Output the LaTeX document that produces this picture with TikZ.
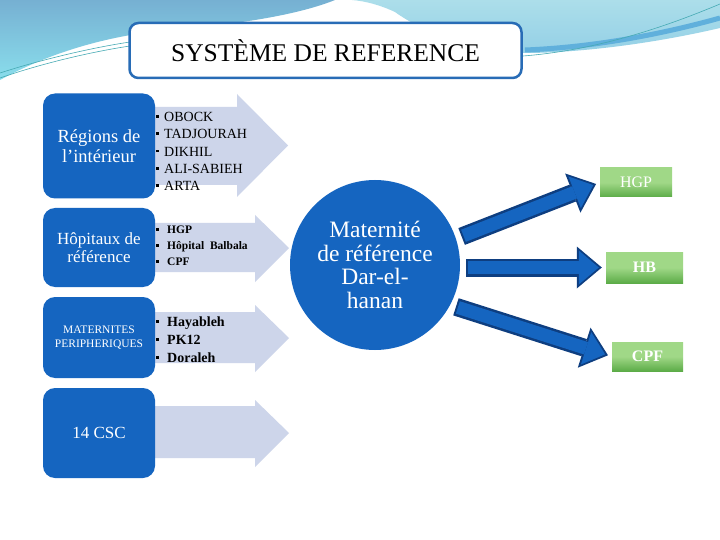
\documentclass[tikz,border=0pt]{standalone}
\usepackage{fontspec}
\setmainfont{Liberation Serif}
\usepackage{tikz}
\usetikzlibrary{arrows.meta,shapes}
\definecolor{boxblue}{RGB}{21,101,192}
\definecolor{darkblue}{RGB}{14,62,128}
\definecolor{frameblue}{RGB}{40,108,182}
\definecolor{lavender}{RGB}{205,213,234}
\definecolor{leafgreen}{RGB}{160,216,135}
\definecolor{deepgreen}{RGB}{92,172,72}
\definecolor{skyA}{RGB}{118,176,210}
\definecolor{skyB}{RGB}{138,222,236}
\definecolor{skyC}{RGB}{172,222,234}
\definecolor{skyD}{RGB}{148,208,230}
\definecolor{bandblue}{RGB}{96,176,220}
\definecolor{tealline}{RGB}{70,170,180}
\tikzstyle{titlebox}=[rectangle,draw=frameblue,line width=2.5pt,rounded corners=9pt,fill=white,minimum width=392pt,minimum height=55pt,font=\fontsize{25.5}{28}\selectfont]
\tikzstyle{bluebox}=[rectangle,rounded corners=12pt,fill=boxblue,text=white,minimum width=112pt,align=center,inner sep=0pt]
\tikzstyle{greenbox}=[rectangle,top color=leafgreen,bottom color=deepgreen,middle color=leafgreen,text=white,inner sep=0pt]
\tikzstyle{listbox}=[anchor=west,align=left,inner sep=0pt]
\tikzstyle{fatedge}=[draw=darkblue,line width=18pt,shorten <=6pt,shorten >=4pt,-{Triangle[length=25pt,width=42pt,line width=0pt]}]
\tikzstyle{fatcore}=[draw=boxblue,line width=13pt,shorten <=8pt,shorten >=7pt,-{Triangle[length=20pt,width=34pt,line width=0pt]}]
\newcommand{\sq}[1][5.5pt]{\rule[0.28em]{2.5pt}{2.5pt}\hspace{#1}}

\begin{document}
\begin{tikzpicture}[x=1pt,y=-1pt]
        \useasboundingbox (0,0) rectangle (720,540);
        \fill[white] (0,0) rectangle (720,540);
        % sky swoosh at the top
        \shade[top color=skyA,bottom color=skyB] (0,0) -- (335,0) .. controls (290,18) and (220,26) .. (150,32) .. controls (90,40) and (40,58) .. (0,80) -- cycle;
        \shade[top color=skyC,bottom color=skyD] (352,0) -- (720,0) -- (720,28) .. controls (660,42) and (590,52) .. (530,53) .. controls (470,53) and (420,30) .. (395,12) .. controls (380,5) and (365,1) .. (352,0) -- cycle;
        \draw[bandblue,line width=5pt] (525,50) .. controls (600,47) and (670,32) .. (720,18);
        \draw[tealline,line width=0.6pt] (0,73) .. controls (40,60) and (90,48) .. (130,42);
        \draw[tealline,line width=0.6pt] (0,78) .. controls (40,64) and (90,52) .. (130,46);
        \draw[tealline,line width=0.6pt] (523,56) .. controls (600,50) and (670,25) .. (720,4);

        \node[titlebox] (title) at (325.5,50.5) {SYSTÈME DE REFERENCE};

        % light arrows behind the lists
        \fill[lavender] (150,107) -- (237,107) -- (237,94) -- (288,145.5) -- (237,197) -- (237,185) -- (150,185) -- cycle;
        \fill[lavender] (150,223) -- (255,223) -- (255,215) -- (289,248) -- (255,282) -- (255,272) -- (150,272) -- cycle;
        \fill[lavender] (150,312) -- (255,312) -- (255,305) -- (289,338) -- (255,372) -- (255,363) -- (150,363) -- cycle;
        \fill[lavender] (150,406) -- (255,406) -- (255,400) -- (289,433) -- (255,467) -- (255,458) -- (150,458) -- cycle;

        \node[bluebox,minimum height=105pt,font=\fontsize{18.5}{20}\selectfont] (regions) at (99,146) {Régions de\\l’intérieur};
        \node[bluebox,minimum height=79pt,font=\fontsize{17}{18}\selectfont] (hopitaux) at (99,247.5) {Hôpitaux de\\référence};
        \node[bluebox,minimum height=81pt,font=\fontsize{11.5}{13.5}\selectfont] (peri) at (99,337.5) {MATERNITES\\PERIPHERIQUES};
        \node[bluebox,minimum height=90pt,font=\fontsize{17}{20}\selectfont] (csc) at (99,433) {14 CSC};

        \node[listbox,font=\fontsize{14}{17.3}\selectfont] (villes) at (156,151.5) {\sq OBOCK\\\sq TADJOURAH\\\sq DIKHIL\\\sq ALI-SABIEH\\\sq ARTA};
        \node[listbox,font=\fontsize{11.5}{16}\selectfont\bfseries] (hosp) at (156,246) {\sq[8.5pt]HGP\\\sq[8.5pt]Hôpital\ \ Balbala\\\sq[8.5pt]CPF};
        \node[listbox,font=\fontsize{14}{18}\selectfont\bfseries] (mats) at (156,340) {\sq[8.5pt]Hayableh\\\sq[8.5pt]PK12\\\sq[8.5pt]Doraleh};

        \node[circle,fill=boxblue,minimum size=170pt,inner sep=0pt,text=white,align=center,font=\fontsize{23.5}{23.5}\selectfont] (mat) at (375,265) {Maternité\\de référence\\Dar-el-\\hanan};

        \node[greenbox,minimum width=72pt,minimum height=29pt,font=\fontsize{16}{18}\selectfont] (hgp) at (636,182.5) {HGP};
        \node[greenbox,minimum width=77pt,minimum height=31pt,font=\fontsize{16}{18}\selectfont\bfseries] (hb) at (644.5,267.5) {HB};
        \node[greenbox,minimum width=71pt,minimum height=29pt,font=\fontsize{16}{18}\selectfont\bfseries] (cpf) at (647.5,356.5) {CPF};

        \draw[fatedge] (mat.18) to (hgp.west);
        \draw[fatcore] (mat.18) to (hgp.west);
        \draw[fatedge] (mat.east |- hb) to (hb.west);
        \draw[fatcore] (mat.east |- hb) to (hb.west);
        \draw[fatedge] (mat.-28) to (cpf.west);
        \draw[fatcore] (mat.-28) to (cpf.west);
\end{tikzpicture}
\end{document}
